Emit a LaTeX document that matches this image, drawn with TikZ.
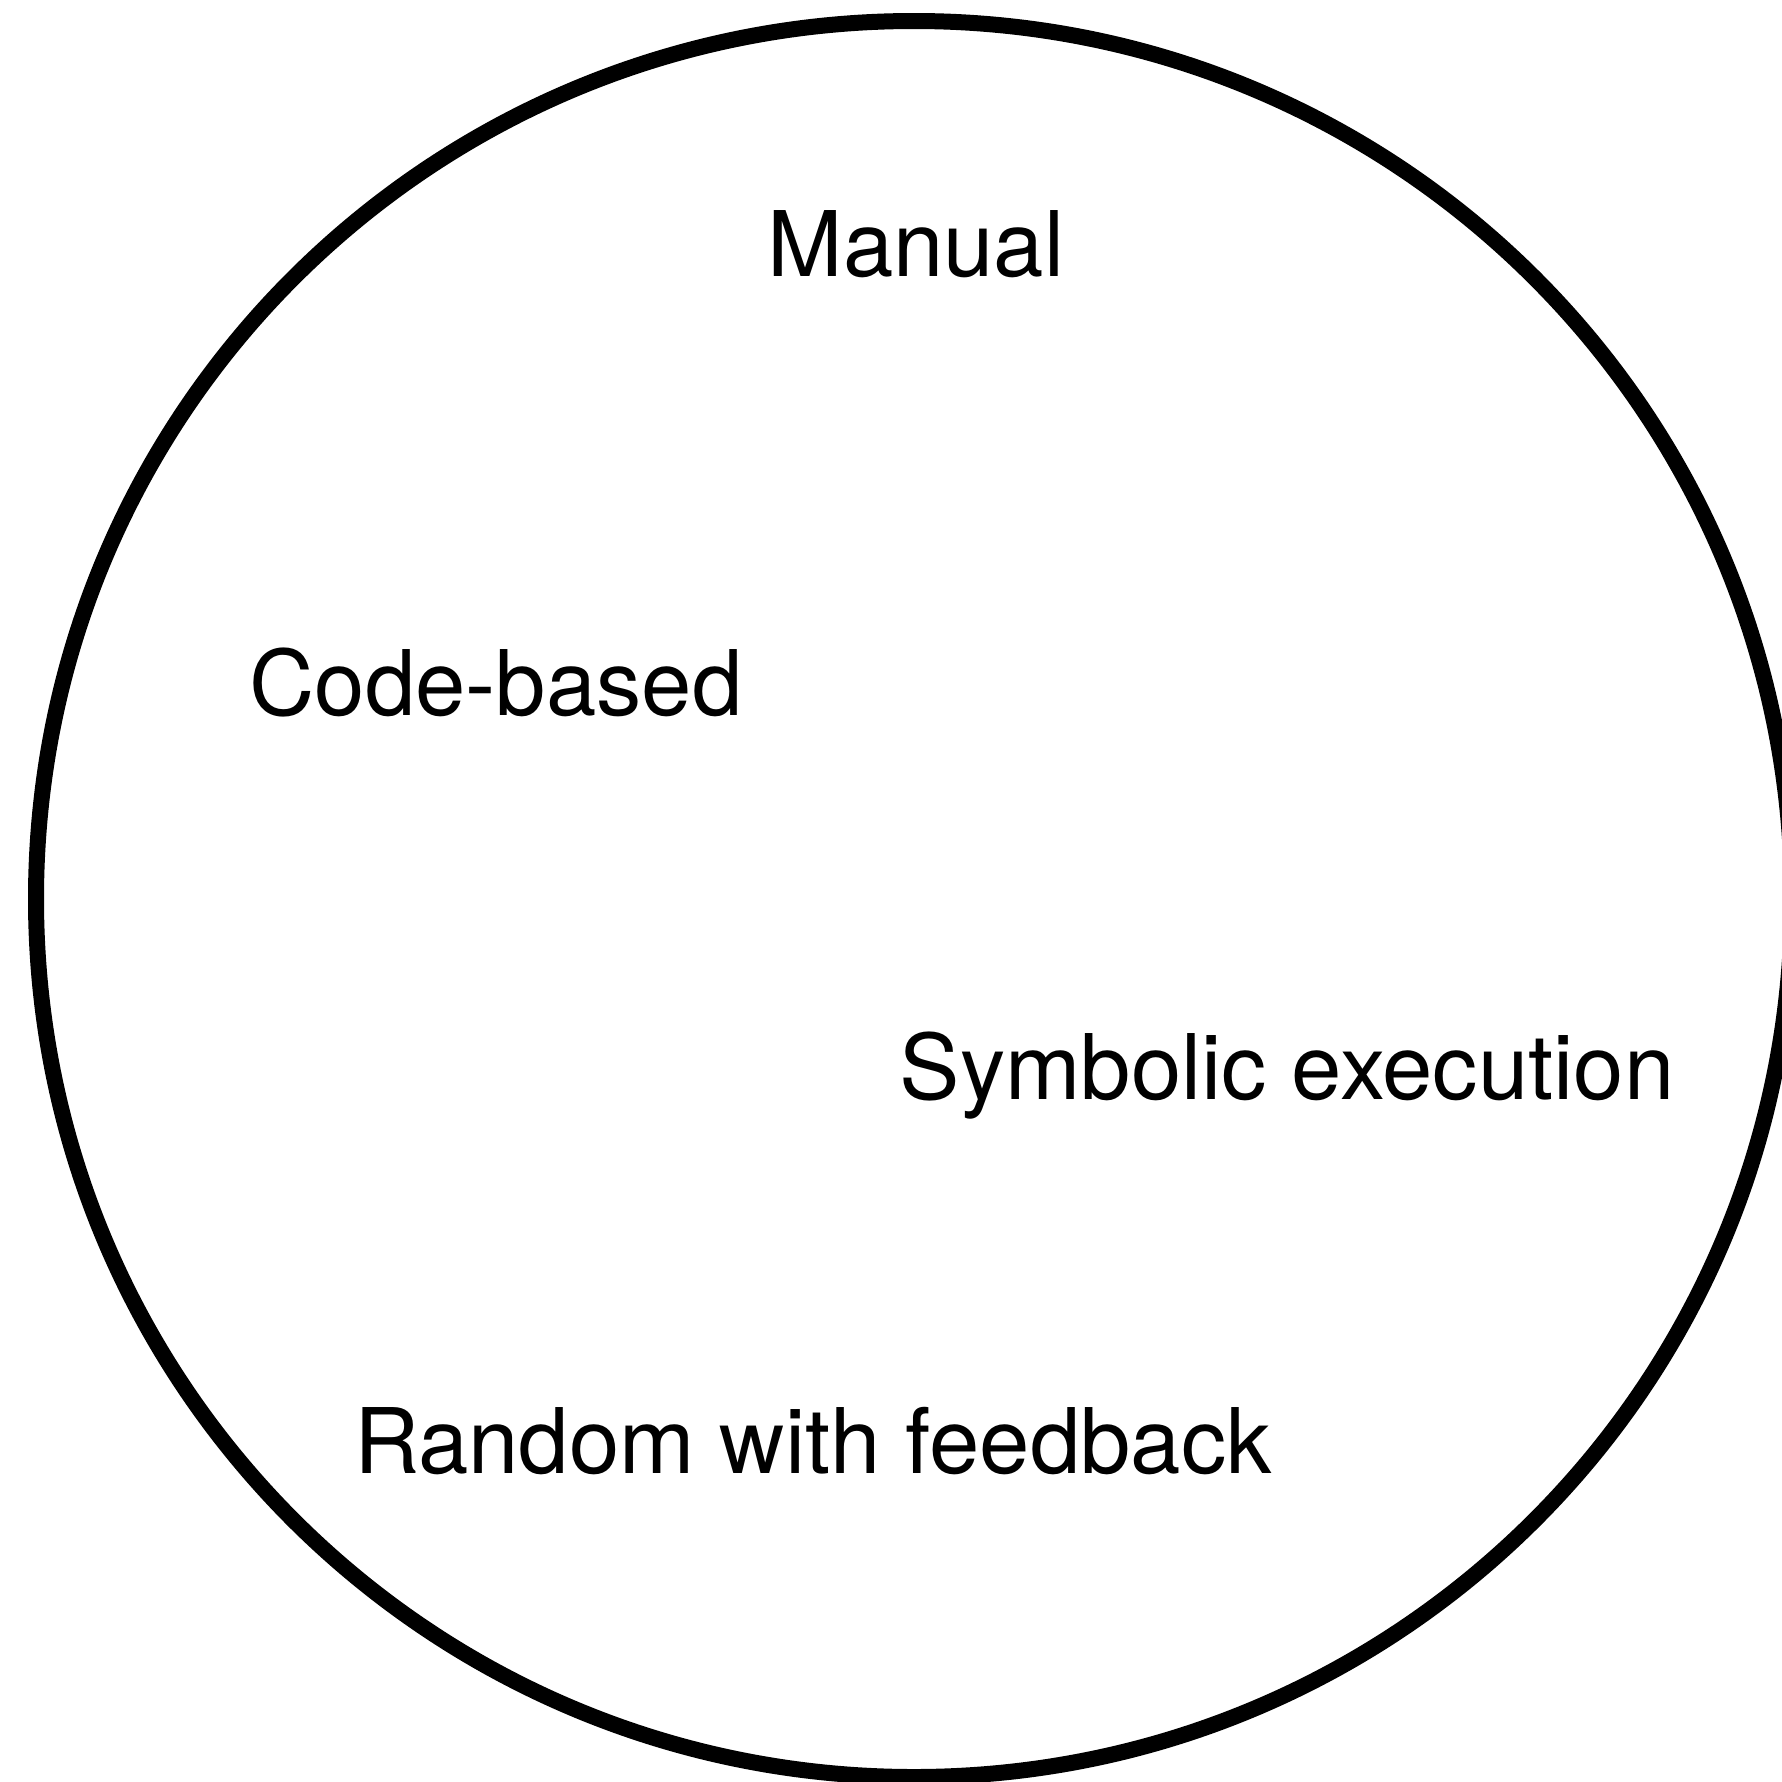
\documentclass[tikz,border=0pt]{standalone}
\usepackage{fontspec}
\setmainfont{TeX Gyre Heros}
\begin{document}
\begin{tikzpicture}[x=1pt,y=1pt,
  lbl/.style={anchor=base,inner sep=0pt,font=\fontsize{90.5}{100}\selectfont},
  ring/.style={draw=black,line width=16pt}]
\useasboundingbox (0,0) rectangle (1782,-1781);
\clip (0,0) rectangle (1782,-1781);
\node[ring,circle,minimum size=1756pt,inner sep=0pt] (c) at (914,-899) {};
\node[lbl] (manual) at (916,-276) {Manual};
\node[lbl] (code) at (496,-715) {Code-based};
\node[lbl] (sym) at (1287,-1099) {Symbolic execution};
\node[lbl] (rand) at (813,-1473) {Random with feedback};
\end{tikzpicture}
\end{document}
